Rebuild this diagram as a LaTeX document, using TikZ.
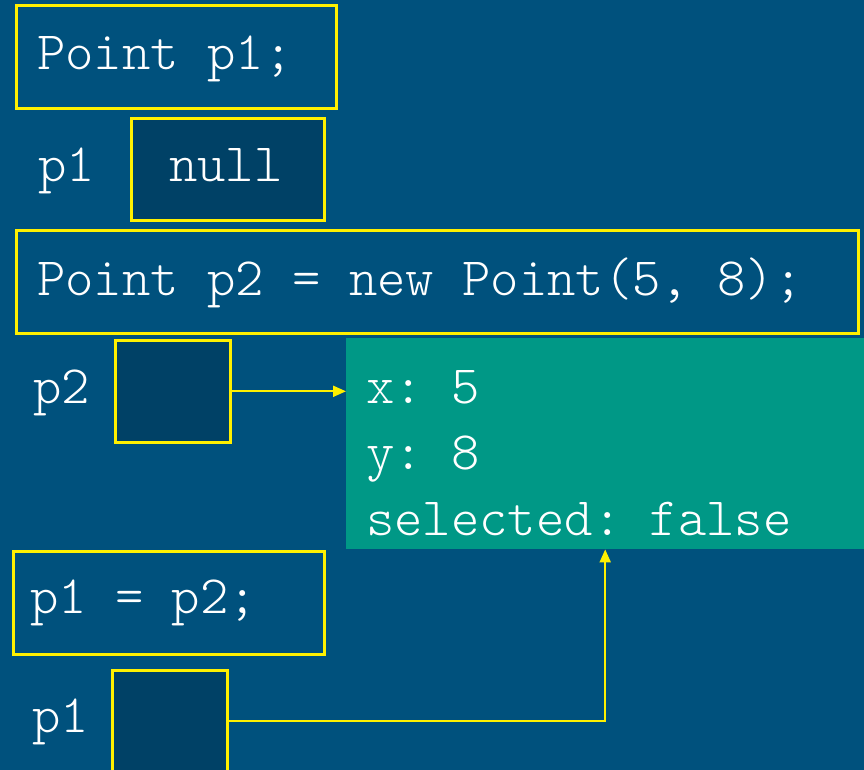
\documentclass[tikz,border=0pt]{standalone}
\usepackage{fontspec}
\setmonofont{Latin Modern Mono Light}
\usetikzlibrary{arrows.meta}
\definecolor{slidebg}{RGB}{0,81,125}
\definecolor{varfill}{RGB}{0,65,102}
\definecolor{objfill}{RGB}{0,152,134}
\definecolor{hilite}{RGB}{255,240,0}
\tikzset{
  code/.style={text=white,font=\ttfamily\fontsize{54}{62}\selectfont,inner sep=0pt,anchor=base west},
  stmt/.style={draw=hilite,line width=2.6pt,anchor=north west,minimum height=103pt,inner sep=0pt},
  var/.style={stmt,fill=varfill,minimum height=102pt},
  ref/.style={draw=hilite,line width=2pt,-{Triangle[length=13pt,width=11pt]}}
}

\begin{document}
\begin{tikzpicture}[x=1pt,y=-1pt]
\fill[slidebg] (0,0) rectangle (864,770);
\useasboundingbox (0,0) rectangle (864,770);
% Point p1;
\node[stmt,minimum width=320pt] (decl1) at (15,4) {};
\node[code] (decl1txt) at (37,70) {Point p1;};
\node[code] (p1name) at (38,182) {p1};
\node[var,minimum width=193pt] (p1null) at (130,117) {};
\node[code] (nulltxt) at (169,182) {null};
% Point p2 = new Point(5, 8);
\node[stmt,minimum width=842pt] (decl2) at (15,229) {};
\node[code] (decl2txt) at (37,295) {Point p2 = new Point(5, 8);};
\node[code] (p2name) at (33,403) {p2};
\node[var,minimum width=115pt] (p2box) at (114,339) {};
\node[fill=objfill,anchor=north west,minimum width=518pt,minimum height=211pt,inner sep=0pt] (obj) at (346,338) {};
\node[code] (fx) at (366,403) {x: 5};
\node[code] (fy) at (366,469) {y: 8};
\node[code] (fsel) at (366,535) {selected: false};
% p1 = p2;
\node[stmt,minimum width=311pt] (assign) at (12,550) {};
\node[code] (assigntxt) at (30,613) {p1 = p2;};
\node[code] (p1again) at (32,732) {p1};
\node[var,minimum width=115pt] (p1box) at (111,669) {};
\draw[ref] (p2box.east) -- (p2box.east -| obj.west);
\draw[ref] (p1box.east) -| (obj.south);
\end{tikzpicture}
\end{document}
